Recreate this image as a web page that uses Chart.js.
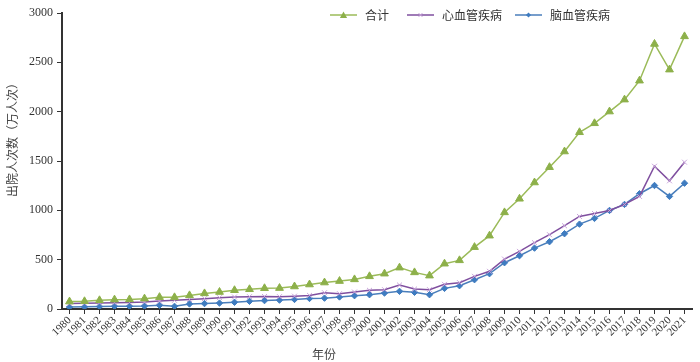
<!DOCTYPE html>
<html>
<head>
<meta charset="utf-8">
<script src="https://cdn.jsdelivr.net/npm/chart.js@4.4.1/dist/chart.umd.min.js"></script>
<style>
  html, body { margin: 0; padding: 0; background: #fff; }
  #wrap { width: 700px; height: 362px; }
</style>
</head>
<body>
<div id="wrap"><canvas id="chart" width="700" height="362"></canvas></div>
<script>
// years on the x axis
const years = [
  '1980','1981','1982','1983','1984','1985','1986','1987','1988','1989',
  '1990','1991','1992','1993','1994','1995','1996','1997','1998','1999',
  '2000','2001','2002','2003','2004','2005','2006','2007','2008','2009',
  '2010','2011','2012','2013','2014','2015','2016','2017','2018','2019',
  '2020','2021'
];

// 合计
const totalValues = [
  75, 78, 88, 95, 97, 105, 120, 118, 138, 158,
  172, 190, 200, 210, 212, 228, 248, 268, 283, 300,
  331, 358, 419, 371, 338, 459, 493, 627, 743, 979,
  1117, 1282, 1437, 1596, 1791, 1882, 2001, 2122, 2314, 2686,
  2426, 2763
];

// 心血管疾病
const heartValues = [
  55, 58, 62, 64, 66, 70, 80, 88, 96, 105,
  115, 122, 125, 127, 125, 130, 138, 165, 155, 172,
  189, 196, 243, 202, 196, 250, 267, 331, 382, 506,
  584, 672, 753, 844, 938, 968, 999, 1060, 1141, 1447,
  1299, 1488
];

// 脑血管疾病
const brainValues = [
  20, 22, 25, 27, 28, 30, 38, 27, 51, 55,
  60, 68, 78, 85, 90, 97, 107, 110, 122, 135,
  145, 162, 179, 169, 145, 209, 236, 297, 358, 469,
  540, 617, 682, 763, 860, 918, 999, 1060, 1168, 1252,
  1141, 1275
];

const yTicks = [0, 500, 1000, 1500, 2000, 2500, 3000];

const serif = 'Liberation Serif, Times New Roman, serif';
const cjk = '"Noto Sans CJK SC", "Noto Sans", sans-serif';

function drawMarker(ctx, style, r, x, y) {
  if (style === 'triangle') {
    ctx.beginPath();
    ctx.moveTo(x, y - r);
    ctx.lineTo(x + r, y + r * 0.8);
    ctx.lineTo(x - r, y + r * 0.8);
    ctx.closePath();
    ctx.fill();
  } else if (style === 'rectRot') {
    ctx.beginPath();
    ctx.moveTo(x, y - r);
    ctx.lineTo(x + r, y);
    ctx.lineTo(x, y + r);
    ctx.lineTo(x - r, y);
    ctx.closePath();
    ctx.fill();
  } else {
    ctx.beginPath();
    ctx.moveTo(x - r * 0.7, y - r * 0.7);
    ctx.lineTo(x + r * 0.7, y + r * 0.7);
    ctx.moveTo(x + r * 0.7, y - r * 0.7);
    ctx.lineTo(x - r * 0.7, y + r * 0.7);
    ctx.stroke();
  }
}

// legend drawn by hand so it can sit inside the plot area like the original
const legendPlugin = {
  id: 'topLegend',
  afterDraw(chart) {
    const ctx = chart.ctx;
    const starts = [330, 407, 515];
    const y = 15;
    chart.data.datasets.forEach((ds, i) => {
      const x0 = starts[i];
      ctx.save();
      ctx.strokeStyle = ds.borderColor;
      ctx.lineWidth = 1.5;
      ctx.beginPath();
      ctx.moveTo(x0, y);
      ctx.lineTo(x0 + 27, y);
      ctx.stroke();
      ctx.fillStyle = ds.pointBackgroundColor;
      ctx.strokeStyle = ds.pointBorderColor;
      ctx.lineWidth = 1;
      drawMarker(ctx, ds.pointStyle, ds.pointRadius * 0.8, x0 + 13.5, y);
      ctx.fillStyle = '#333';
      ctx.font = '12px ' + cjk;
      ctx.textBaseline = 'middle';
      ctx.textAlign = 'left';
      ctx.fillText(ds.label, x0 + 35, y);
      ctx.restore();
    });
  }
};

const axisTitles = {
  id: 'axisTitles',
  afterDraw(chart) {
    const ctx = chart.ctx;
    ctx.save();
    ctx.fillStyle = '#444';
    ctx.font = '12px ' + cjk;
    ctx.textAlign = 'center';
    ctx.textBaseline = 'middle';
    ctx.fillText('年份', 324, 354);
    ctx.translate(12, 137);
    ctx.rotate(-Math.PI / 2);
    ctx.fillText('出院人次数（万人次）', 0, 0);
    ctx.restore();
  }
};

new Chart(document.getElementById('chart'), {
  type: 'line',
  data: {
    labels: years,
    datasets: [
      {
        label: '合计',
        data: totalValues,
        borderColor: '#9BBB59',
        borderWidth: 1.5,
        pointStyle: 'triangle',
        pointRadius: 4.5,
        pointBackgroundColor: '#8DB04A',
        pointBorderColor: '#8DB04A',
        pointBorderWidth: 1,
        tension: 0
      },
      {
        label: '心血管疾病',
        data: heartValues,
        borderColor: '#7F4F9F',
        borderWidth: 1.5,
        pointStyle: 'crossRot',
        pointRadius: 3.5,
        pointBackgroundColor: '#C8A4DA',
        pointBorderColor: '#C8A4DA',
        pointBorderWidth: 1,
        tension: 0
      },
      {
        label: '脑血管疾病',
        data: brainValues,
        borderColor: '#4A7EBB',
        borderWidth: 1.5,
        pointStyle: 'rectRot',
        pointRadius: 3.2,
        pointBackgroundColor: '#3F7CC0',
        pointBorderColor: '#3F7CC0',
        pointBorderWidth: 1,
        tension: 0
      }
    ]
  },
  options: {
    responsive: false,
    animation: false,
    devicePixelRatio: 1,
    layout: { padding: { left: 0, right: 8, top: 13, bottom: 0 } },
    plugins: {
      legend: { display: false },
      tooltip: { enabled: false }
    },
    scales: {
      x: {
        offset: true,
        grid: {
          drawOnChartArea: false,
          drawTicks: true,
          tickLength: 5,
          color: '#333',
          offset: false
        },
        border: { color: '#333', width: 2 },
        ticks: {
          autoSkip: false,
          maxRotation: 45,
          minRotation: 45,
          padding: 0,
          color: '#333',
          font: { family: serif, size: 11 }
        },
        afterFit(scale) { scale.height = 53; }
      },
      y: {
        min: 0,
        max: 3000,
        grid: {
          drawOnChartArea: false,
          drawTicks: true,
          tickLength: 5,
          color: '#333'
        },
        border: { color: '#333', width: 2 },
        afterBuildTicks(scale) {
          scale.ticks = yTicks.map(v => ({ value: v }));
        },
        ticks: {
          padding: 4,
          color: '#333',
          font: { family: serif, size: 12 },
          callback: v => String(v)
        },
        afterFit(scale) { scale.width = 62; }
      }
    }
  },
  plugins: [legendPlugin, axisTitles]
});
</script>
</body>
</html>
